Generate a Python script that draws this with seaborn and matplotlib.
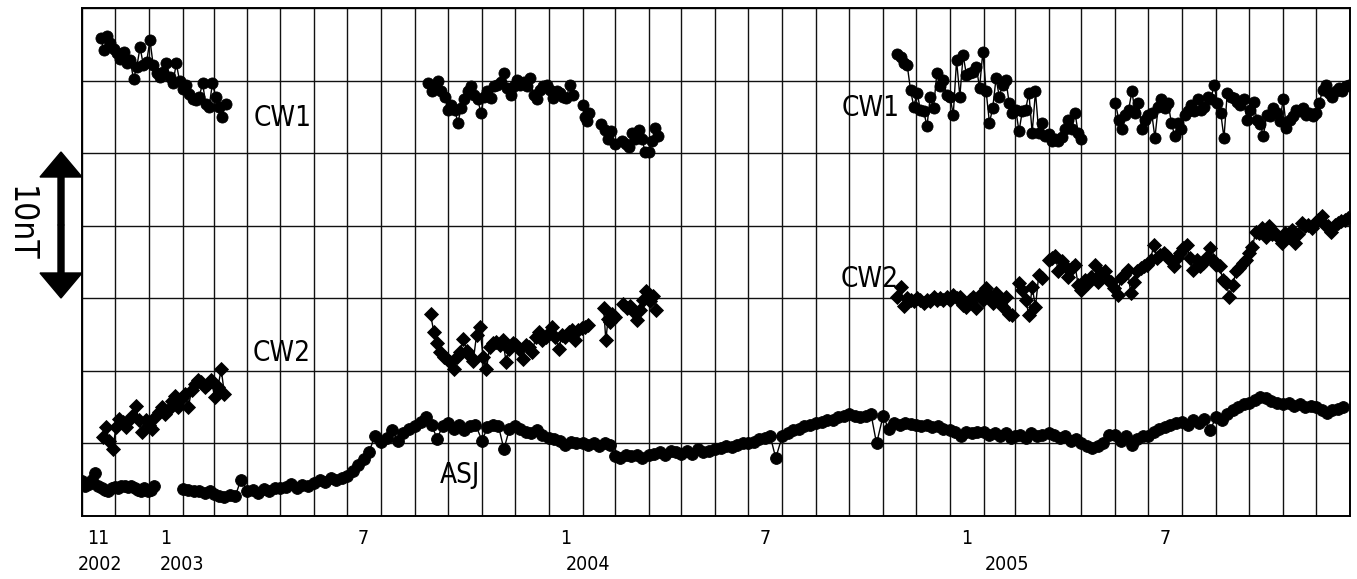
import pandas as pd
import matplotlib
matplotlib.use("Agg")
import matplotlib.pyplot as plt
import matplotlib.dates as mdates
import matplotlib.transforms as mtransforms
from matplotlib import font_manager
import seaborn as sns

# x axis span and labels
x_start, x_end = "2002-11-01", "2006-01-01"
month_label_dates = ["2002-11-16", "2003-01-16", "2003-07-16", "2004-01-16",
                     "2004-07-16", "2005-01-16", "2005-07-16"]
month_labels = ["11", "1", "7", "1", "7", "1", "7"]
year_label_dates = ["2002-11-17", "2003-01-31", "2004-02-06", "2005-02-22"]
year_labels = ["2002", "2003", "2004", "2005"]

# names written inside the plot
series_text = ["CW1", "CW1", "CW2", "CW2", "ASJ"]
series_text_dates = ["2003-05-03", "2004-10-21", "2003-05-02", "2004-10-20", "2003-10-12"]
series_text_values = [27.4, 28.1, 11.2, 16.3, 2.8]

# CW1 segments (nT): start date, step in days, values
cw1_a_start, cw1_a_step = "2002-11-18", 3
cw1_a = [32.9, 32.1, 33.1, 32.6, 32.2, 31.9, 31.5, 32.0, 31.2, 31.4,
         30.1, 30.95, 32.3, 31.05, 31.3, 32.8, 31.05, 30.5, 30.25, 30.6,
         31.2, 30.25, 29.8, 31.2, 30.0, 29.45, 29.7, 29.1, 28.75, 28.65,
         28.9, 29.8, 28.4, 28.2, 29.8, 28.9, 28.2, 27.5, 28.4]
cw1_b_start, cw1_b_step = "2003-09-13", 3
cw1_b = [29.8, 29.25, 29.7, 29.95, 29.25, 28.9, 28.0, 28.35, 28.0, 27.1,
         28.1, 28.7, 29.25, 29.6, 29.0, 28.7, 27.8, 28.9, 29.25, 28.8,
         29.6, 29.7, 29.9, 30.5, 29.5, 29.0, 29.6, 30.05, 29.7, 29.9,
         29.6, 30.15, 29.0, 28.7, 29.35, 29.6, 29.7, 29.35, 28.8, 29.25,
         29.15, 28.9, 28.8, 29.7, 29.0]
cw1_c_start, cw1_c_step = "2004-02-01", 2
cw1_c = [28.3, 27.5, 27.2, 27.8]
cw1_d_start, cw1_d_step = "2004-02-18", 3
cw1_d = [27.0, 26.6, 26.0, 26.5, 25.6]
cw1_e_start, cw1_e_step = "2004-03-08", 3
cw1_e = [25.85, 25.6, 25.4, 26.4, 25.95, 26.6, 25.95, 25.05, 25.05, 25.85, 26.75, 26.2]
cw1_f_start, cw1_f_step = "2004-11-14", 3
cw1_f = [31.85, 31.6, 31.2, 31.05, 29.35, 28.2, 29.15, 28.0, 27.9, 26.85,
         28.9, 28.1, 30.5, 29.6, 30.05, 29.0, 28.9, 27.65, 31.4, 28.9,
         31.75, 30.4, 30.5, 30.6, 30.95, 29.5, 32.0, 29.25, 27.1, 28.1,
         30.15, 28.9, 29.7, 30.05, 28.45, 27.8, 28.0, 26.5, 27.9, 28.0,
         29.15, 26.4, 29.25, 26.4, 27.1, 26.2, 26.3, 25.85, 25.95, 25.85,
         26.1, 26.65, 27.3, 26.65, 27.8, 26.4, 25.95]
cw1_g_start, cw1_g_step = "2005-06-01", 3
cw1_g = [28.45, 27.3, 26.65, 27.65, 28.0, 29.25, 27.8, 28.45, 26.65, 27.3,
         27.65, 27.8, 26.05, 28.2, 28.7, 28.1, 28.45, 27.1, 26.2, 27.1, 26.65,
         27.65, 27.9, 28.35, 27.9, 28.7, 28.0, 28.2, 28.9, 28.7, 29.7,
         28.45, 27.8, 26.05, 29.15, 28.9, 28.8, 28.55, 28.35, 28.7, 27.3,
         28.0, 28.55, 27.3, 27.0, 26.2, 27.65, 27.55, 28.1, 27.8, 27.2,
         28.7, 26.75, 27.3, 27.55, 28.0, 27.9, 28.1, 27.65, 27.8, 27.55,
         27.8, 28.45, 29.35, 29.7, 29.15, 28.9, 29.25, 29.5, 29.25, 29.6, 29.7]

# CW2 segments (nT)
cw2_a_start, cw2_a_step = "2002-11-20", 3
cw2_a = [5.45, 6.1, 5.2, 4.6, 6.1, 6.7, 6.45, 6.1, 6.6, 6.9,
         7.6, 6.6, 5.8, 6.6, 6.25, 6.0, 6.8, 7.15, 7.5, 7.05,
         7.4, 7.95, 8.3, 7.5, 8.1, 8.4, 7.5, 8.65, 9.1, 9.35,
         9.2, 8.9, 9.1, 9.35, 8.2, 8.9, 10.1, 8.4]
cw2_b_start, cw2_b_step = "2003-09-15", 3
cw2_b = [13.9, 12.7, 11.9, 11.3, 10.95, 10.8,
         10.6, 10.1, 10.95, 11.3, 12.2, 11.4, 11.05, 10.7, 12.45, 13.05,
         10.95, 10.1, 11.65, 11.9, 12.0, 11.75, 12.1, 10.6, 11.5, 11.9,
         11.75, 11.5, 10.8, 11.75, 11.65, 11.3, 12.35, 12.7, 12.1, 12.35,
         12.6, 13.05, 12.35, 11.5, 12.45, 12.35, 12.7, 12.8, 12.1, 12.8, 12.95,
         13.05, 13.15]
cw2_c_start, cw2_c_step = "2004-02-20", 2
cw2_c = [14.3, 12.1, 13.6, 13.4, 13.9, 13.7]
cw2_d_start, cw2_d_step = "2004-03-09", 3
cw2_d = [14.6, 14.35, 14.45, 14.1, 13.5, 14.2, 14.9, 15.5, 14.8, 15.15, 14.2]
cw2_e_start, cw2_e_step = "2004-11-14", 3
cw2_e = [15.1, 15.8, 14.5, 15.0, 14.9, 14.8,
         15.0, 14.9, 14.65, 14.9, 14.8, 15.1, 14.9, 15.0, 14.9, 15.1,
         14.9, 15.25, 15.0, 15.1, 14.55, 14.4, 14.9, 15.1, 14.3, 15.25, 14.9,
         15.7, 15.25, 14.65, 15.35, 14.9, 14.4, 15.1, 13.95, 13.85]
cw2_f_start, cw2_f_step = "2005-03-05", 3
cw2_f = [16.05, 15.6, 14.9, 13.85, 15.8, 14.4, 16.6, 16.4]
cw2_g_start, cw2_g_step = "2005-04-01", 3
cw2_g = [17.65, 17.75, 17.9, 16.85, 17.55, 17.2, 16.5, 17.1, 17.3, 15.9,
         15.6, 16.25, 16.05, 16.5, 17.3, 16.15, 16.75, 16.85, 16.25, 16.15, 15.7,
         15.25, 16.4, 16.6, 16.95, 15.35, 16.15, 16.85, 17.1, 17.2, 17.3,
         17.65, 18.7, 17.75, 18.0, 18.1, 17.9, 17.65, 17.2, 17.75, 18.1,
         18.45, 18.7, 17.75, 16.95, 17.65, 17.2, 17.4, 17.75, 18.45, 17.65,
         17.3, 17.2, 16.25, 16.05, 15.1, 15.9, 16.85, 17.1, 17.4, 17.65,
         18.1, 18.55, 19.6, 19.5, 19.85, 19.25, 19.95, 19.4, 19.5, 19.15, 18.8,
         19.5, 19.25, 19.7, 18.8, 19.4, 20.2, 19.95, 20.05, 19.85, 20.2,
         20.4, 20.65, 20.05, 19.95, 19.6, 20.05, 20.2, 20.3, 20.4, 20.5]

# ASJ (nT): first piece every 3 days, then six readings per month
asj_a_start, asj_a_step = "2002-11-01", 3
asj_a = [2.4, 2.1, 2.2, 2.5, 2.95, 2.1, 1.9, 1.8, 1.7, 1.9, 2.0, 1.95,
         2.05, 2.1, 2.0, 2.1, 1.95, 1.8, 1.75, 1.9, 1.7, 1.8, 2.1]
asj_b_first_month = "2003-02-01"
asj_b_day_offsets = [0, 5, 10, 15, 20, 25]
asj_b = [
    [1.85, 1.8, 1.7, 1.75, 1.6, 1.7],     # 2003-02
    [1.55, 1.35, 1.3, 1.45, 1.4, 2.5],
    [1.7, 1.8, 1.6, 1.85, 1.75, 1.9],
    [1.9, 2.0, 2.2, 1.95, 2.15, 2.1],
    [2.3, 2.5, 2.35, 2.6, 2.45, 2.6],
    [2.75, 3.1, 3.5, 3.9, 4.4, 5.5],      # 2003-07
    [5.1, 5.4, 5.9, 5.2, 5.7, 6.0],
    [6.2, 6.5, 6.8, 6.3, 5.3, 6.2],
    [6.4, 6.0, 6.3, 5.9, 6.2, 6.3],
    [5.2, 6.1, 6.3, 6.2, 4.6, 6.0],
    [6.2, 6.0, 5.8, 5.7, 5.9, 5.6],
    [5.4, 5.3, 5.2, 4.9, 5.1, 5.0],       # 2004-01
    [5.0, 4.9, 5.0, 4.8, 5.0, 4.9],
    [4.1, 4.0, 4.2, 4.1, 4.2, 4.0],
    [4.2, 4.3, 4.4, 4.2, 4.5, 4.4],
    [4.3, 4.5, 4.3, 4.6, 4.4, 4.5],
    [4.6, 4.7, 4.8, 4.75, 4.9, 5.0],
    [5.0, 5.1, 5.3, 5.4, 5.5, 4.0],       # 2004-07
    [5.5, 5.7, 5.9, 6.0, 6.2, 6.3],
    [6.4, 6.5, 6.6, 6.6, 6.8, 6.9],
    [7.0, 6.9, 6.85, 6.9, 7.0, 5.0],
    [6.9, 6.0, 6.4, 6.3, 6.4, 6.35],
    [6.3, 6.2, 6.3, 6.1, 6.2, 6.0],
    [5.9, 5.8, 5.5, 5.8, 5.7, 5.8],       # 2005-01
    [5.8, 5.6, 5.7, 5.5, 5.7, 5.4],
    [5.5, 5.6, 5.4, 5.7, 5.5, 5.6],
    [5.7, 5.6, 5.4, 5.5, 5.2, 5.3],
    [5.0, 4.8, 4.7, 4.8, 5.0, 5.6],
    [5.6, 5.2, 5.5, 4.9, 5.3, 5.5],
    [5.5, 5.8, 6.0, 6.1, 6.3, 6.4],       # 2005-07
    [6.5, 6.3, 6.6, 6.4, 6.7, 5.9],
    [6.8, 6.6, 7.0, 7.3, 7.5, 7.7],
    [7.8, 8.0, 8.2, 8.1, 7.9, 7.8],
    [7.7, 7.8, 7.6, 7.7, 7.5, 7.6],
    [7.5, 7.3, 7.1, 7.3, 7.4, 7.5],
]


def segment(series, seg, start, step, values):
    dates = pd.date_range(start, periods=len(values), freq=f"{step}D")
    return pd.DataFrame({"date": dates, "nT": values, "series": series, "seg": seg})


def build_data():
    parts = [
        segment("CW1", 1, cw1_a_start, cw1_a_step, cw1_a),
        segment("CW1", 2, cw1_b_start, cw1_b_step, cw1_b),
        segment("CW1", 3, cw1_c_start, cw1_c_step, cw1_c),
        segment("CW1", 4, cw1_d_start, cw1_d_step, cw1_d),
        segment("CW1", 5, cw1_e_start, cw1_e_step, cw1_e),
        segment("CW1", 6, cw1_f_start, cw1_f_step, cw1_f),
        segment("CW1", 7, cw1_g_start, cw1_g_step, cw1_g),
        segment("CW2", 1, cw2_a_start, cw2_a_step, cw2_a),
        segment("CW2", 2, cw2_b_start, cw2_b_step, cw2_b),
        segment("CW2", 3, cw2_c_start, cw2_c_step, cw2_c),
        segment("CW2", 4, cw2_d_start, cw2_d_step, cw2_d),
        segment("CW2", 5, cw2_e_start, cw2_e_step, cw2_e),
        segment("CW2", 6, cw2_f_start, cw2_f_step, cw2_f),
        segment("CW2", 7, cw2_g_start, cw2_g_step, cw2_g),
        segment("ASJ", 1, asj_a_start, asj_a_step, asj_a),
    ]
    months = pd.date_range(asj_b_first_month, periods=len(asj_b), freq="MS")
    dates = [m + pd.Timedelta(days=d) for m in months for d in asj_b_day_offsets]
    values = [v for row in asj_b for v in row]
    parts.append(pd.DataFrame({"date": dates, "nT": values, "series": "ASJ", "seg": 2}))
    return pd.concat(parts, ignore_index=True)


def pick_font():
    # a narrow face is closest to the original labels
    names = {f.name for f in font_manager.fontManager.ttflist}
    if "Liberation Sans Narrow" in names:
        return "Liberation Sans Narrow", "normal"
    return "DejaVu Sans", "condensed"


def main():
    data = build_data()

    sns.set_style("white")
    font, stretch = pick_font()
    plt.rcParams["font.family"] = [font, "DejaVu Sans"]
    plt.rcParams["font.stretch"] = stretch
    plt.rcParams["text.color"] = "black"

    fig = plt.figure(figsize=(13.57, 5.79), dpi=100)
    ax = fig.add_axes([82 / 1357, 63 / 579, 1268 / 1357, 508 / 579])

    styles = {"CW1": ("o", 8.0), "CW2": ("D", 7.0), "ASJ": ("o", 8.5)}
    for name, (marker, size) in styles.items():
        sns.lineplot(data=data[data["series"] == name], x="date", y="nT",
                     units="seg", estimator=None, color="black", linewidth=1.0,
                     marker=marker, markersize=size, markeredgecolor="black",
                     markeredgewidth=0.6, ax=ax)

    # month grid and 5 nT grid
    ax.set_xlim(mdates.date2num(pd.Timestamp(x_start)), mdates.date2num(pd.Timestamp(x_end)))
    ax.xaxis.set_major_locator(mdates.MonthLocator())
    ax.xaxis.set_major_formatter(plt.NullFormatter())
    ax.set_ylim(0, 35)
    ax.set_yticks(range(0, 36, 5))
    ax.set_yticklabels([])
    ax.tick_params(length=0)
    ax.grid(True, which="major", color="#111111", linewidth=1.0)
    ax.set_axisbelow(True)
    ax.set_xlabel("")
    ax.set_ylabel("")
    for spine in ax.spines.values():
        spine.set_color("black")
        spine.set_linewidth(1.4)

    # tick labels
    trans = mtransforms.blended_transform_factory(ax.transData, ax.transAxes)
    for d, lab in zip(month_label_dates, month_labels):
        ax.text(mdates.date2num(pd.Timestamp(d)), -22 / 508, lab, transform=trans,
                ha="center", va="center", fontsize=14)
    for d, lab in zip(year_label_dates, year_labels):
        ax.text(mdates.date2num(pd.Timestamp(d)), -48 / 508, lab, transform=trans,
                ha="center", va="center", fontsize=14)

    # series names
    for lab, d, v in zip(series_text, series_text_dates, series_text_values):
        ax.text(mdates.date2num(pd.Timestamp(d)), v, lab, ha="center", va="center", fontsize=20)

    # 10 nT scale arrow (drawn in a small pixel-unit axes)
    arr = fig.add_axes([36 / 1357, (579 - 302) / 579, 50 / 1357, 154 / 579])
    arr.set_xlim(36, 86)
    arr.set_ylim(302, 148)
    arr.axis("off")
    arr.arrow(61, 225, 0, -73, width=6, head_width=42, head_length=25,
              length_includes_head=True, color="black")
    arr.arrow(61, 225, 0, 73, width=6, head_width=42, head_length=25,
              length_includes_head=True, color="black")
    fig.text(20 / 1357, 1 - 224 / 579, "10nT", rotation=270, ha="center", va="center",
             fontsize=24)

    fig.savefig("out.png", dpi=100)


if __name__ == "__main__":
    main()
